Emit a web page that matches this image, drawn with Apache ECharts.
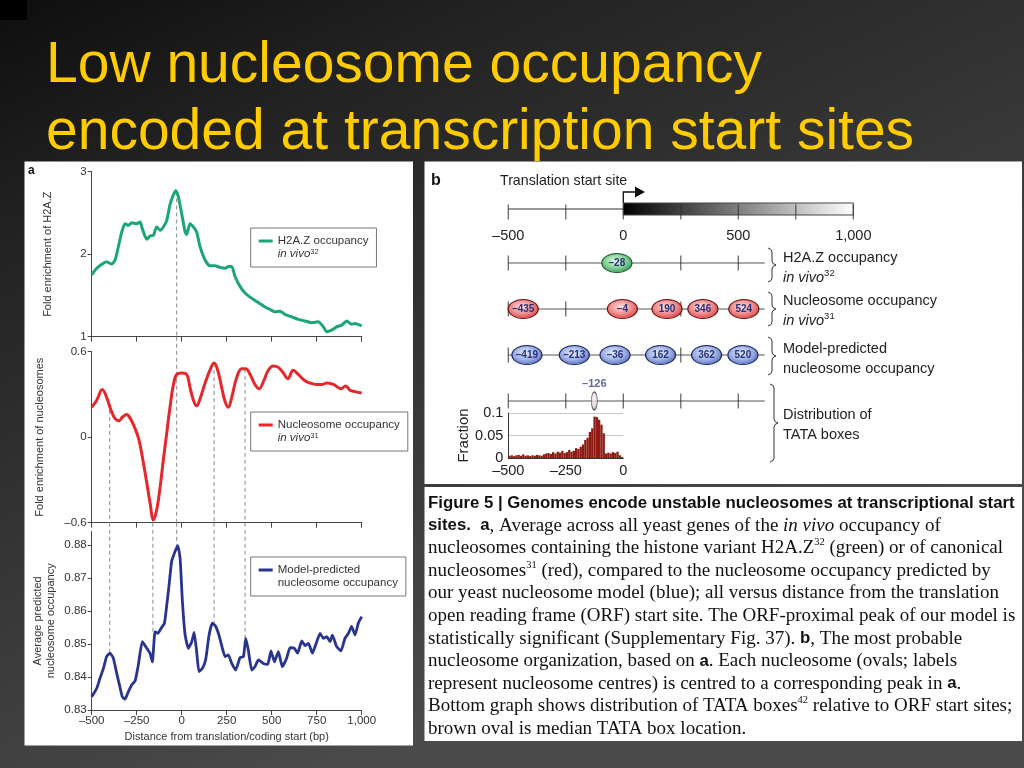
<!DOCTYPE html>
<html><head><meta charset="utf-8">
<script src="https://cdn.jsdelivr.net/npm/echarts@6/dist/echarts.min.js"></script>
<style>html,body{margin:0;padding:0;background:#222}#c{width:1024px;height:768px}</style>
</head><body><div id="c"></div><script>
// ---------- Panel a data ----------
const xTickStep = 250;
const h2azPos = [-500,-472,-435,-417,-389,-370,-352,-333,-315,-296,-278,-250,-231,-219,-194,-176,-157,-139,-120,-102,-83,-65,-46,-33,-19,0,19,28,46,65,83,102,130,157,185,213,241,259,278,296,324,352,380,407,435,463,491,519,546,574,611,648,685,722,759,787,806,833,861,889,917,944,963,1000];
const h2azFold = [1.75,1.83,1.89,1.91,1.88,1.93,2.09,2.27,2.37,2.35,2.38,2.37,2.39,2.31,2.18,2.22,2.23,2.33,2.29,2.33,2.41,2.60,2.72,2.77,2.70,2.49,2.27,2.24,2.37,2.33,2.27,2.09,1.93,1.86,1.86,1.84,1.83,1.85,1.85,1.73,1.61,1.53,1.48,1.44,1.40,1.36,1.33,1.30,1.31,1.27,1.24,1.21,1.19,1.17,1.18,1.12,1.06,1.08,1.12,1.14,1.19,1.15,1.16,1.13];
const nucPos = [-500,-472,-441,-417,-393,-370,-348,-330,-306,-281,-259,-237,-213,-194,-176,-157,-139,-120,-102,-83,-65,-46,-28,0,28,46,65,83,102,130,157,180,200,222,241,259,278,306,333,356,380,407,430,454,481,509,537,565,589,620,648,681,713,750,778,806,843,885,911,935,963,1000];
const nucFold = [0.21,0.26,0.335,0.28,0.19,0.13,0.116,0.14,0.16,0.12,0.06,-0.02,-0.18,-0.32,-0.46,-0.58,-0.51,-0.35,-0.16,0.03,0.21,0.37,0.44,0.45,0.44,0.35,0.26,0.22,0.27,0.38,0.47,0.52,0.47,0.35,0.25,0.21,0.28,0.42,0.48,0.48,0.44,0.37,0.34,0.39,0.47,0.50,0.49,0.45,0.41,0.47,0.44,0.40,0.38,0.37,0.37,0.38,0.37,0.34,0.36,0.33,0.32,0.31];
const modelPos = [-500,-472,-454,-435,-417,-398,-380,-361,-346,-330,-315,-296,-278,-259,-241,-219,-194,-176,-163,-148,-133,-115,-96,-83,-70,-56,-37,-22,-9,4,19,37,56,69,83,96,115,133,152,170,189,207,226,241,259,278,300,324,343,356,370,389,407,426,454,478,496,515,537,559,583,602,626,644,667,685,704,726,744,769,787,806,824,837,861,885,907,926,944,963,981,1000];
const modelOcc = [0.834,0.8366,0.8396,0.8426,0.8462,0.8472,0.8457,0.8411,0.8376,0.834,0.8333,0.8356,0.8376,0.8388,0.8436,0.8507,0.8487,0.8472,0.8446,0.8537,0.8532,0.8547,0.8563,0.8618,0.8679,0.875,0.878,0.8798,0.876,0.8628,0.8527,0.8487,0.8507,0.8535,0.8477,0.8416,0.8426,0.8452,0.8527,0.8563,0.8553,0.8527,0.8487,0.8462,0.8467,0.8441,0.8421,0.8459,0.8462,0.8517,0.8482,0.8421,0.8431,0.8452,0.8441,0.8438,0.8479,0.8446,0.8477,0.8431,0.8457,0.8489,0.8487,0.8472,0.8509,0.8495,0.8502,0.8472,0.8497,0.8532,0.8517,0.8522,0.8507,0.8527,0.8492,0.8479,0.8517,0.8532,0.8553,0.8527,0.8563,0.8583];
const modelTicks = [0.83,0.84,0.85,0.86,0.87,0.88];
// dashed guide lines linking peaks
const h2azGuide = {pos:-28, from:2.76, to:1};
const guidePos = [-400,-160,-28,180,352];
const guideRedFrom = [0.24,-0.58,0.705,0.52,0.48];
const guideBlueTo = [0.8472,0.8537,0.8795,0.8558,0.8517];
const guideBlueFrom = 0.8867;

// ---------- Panel b data ----------
const scaleTicks = [-500,-250,0,250,500,750,1000];
const scaleLabels = [-500,0,500,1000];
const rowNames = ['H2A.Z','Nucleosome','Model','TATA'];
const rowTicks = [-500,-250,0,250,500];
const rowEnd = 615;
const h2azCentres = [-28];
const nucCentres = [-435,-4,190,346,524];
const modelCentres = [-419,-213,-36,162,362,520];
const tataMedian = -126;
const tataBinStart = -500, tataBinWidth = 10;
const tataFrac = [0.005,0.006,0.004,0.006,0.007,0.005,0.008,0.005,0.006,0.004,
  0.006,0.005,0.007,0.006,0.005,0.008,0.010,0.011,0.009,0.013,
  0.010,0.014,0.012,0.016,0.011,0.013,0.018,0.014,0.016,0.022,
  0.020,0.025,0.030,0.040,0.045,0.058,0.066,0.092,0.091,0.085,
  0.074,0.055,0.010,0.012,0.010,0.013,0.011,0.014,0.006,0.002];
const fracTicks = [0,0.05,0.1];

// ---------- helpers ----------
const SANS = 'Liberation Sans';
const SERIF = 'Liberation Serif';
const dash = v => v < 0 ? '\u2013' + Math.abs(v).toLocaleString('en-US') : v.toLocaleString('en-US');
const zip = (a,b) => a.map((x,i)=>[x,b[i]]);
const guideStyle = {color:'#8a8a8a', width:1, type:[4,3]};
function guide(gi, x, y1, y2){
  return {type:'line', xAxisIndex:gi, yAxisIndex:gi, data:[[x,y1],[x,y2]], symbol:'none', clip:false, silent:true, z:1, lineStyle:guideStyle};
}
const tickLbl = {fontFamily:SANS, fontSize:11.5, color:'#333', margin:5};
function aX(gi, showLabel){
  return {gridIndex:gi, type:'value', min:-500, max:1000, interval:xTickStep,
    axisLine:{onZero:false, lineStyle:{color:'#444'}}, axisTick:{length:5, lineStyle:{color:'#444'}},
    splitLine:{show:false}, axisLabel:Object.assign({show:showLabel, formatter:dash}, tickLbl)};
}
const nameStyle = {fontFamily:SANS, fontSize:11, color:'#333', lineHeight:13};
const ovalGrad = (c0,c1,c2) => ({type:'radial', x:0.45, y:0.4, r:0.65, colorStops:[{offset:0,color:c0},{offset:0.55,color:c1},{offset:1,color:c2}]});
const ovalLabel = {show:true, position:'inside', formatter:p=>dash(p.value[0]), fontFamily:SANS, fontSize:10, fontWeight:'bold', color:'#28307a'};
function ovals(centres, row, c0,c1,c2,border){
  return {type:'scatter', xAxisIndex:4, yAxisIndex:4, data:centres.map(x=>[x,row]), symbol:'circle', symbolSize:[30,19], z:5,
    itemStyle:{color:ovalGrad(c0,c1,c2), borderColor:border, borderWidth:1, opacity:1}, label:ovalLabel};
}
const legendRich = {n:{fontFamily:SANS, fontSize:11.5, lineHeight:13.5, color:'#333'}, i:{fontFamily:SANS, fontStyle:'italic', fontSize:11.5, lineHeight:13.5, color:'#333'}, s:{fontFamily:SANS, fontSize:7.5, lineHeight:9, verticalAlign:'top', color:'#333'}};
const legendText = {'H2A.Z':'{n|H2A.Z occupancy}\n{i|in vivo}{s|32}', 'Nucleosome':'{n|Nucleosome occupancy}\n{i|in vivo}{s|31}', 'Model':'{n|Model-predicted}\n{n|nucleosome occupancy}'};
function mkLegend(name, left, top, w){
  return {data:[name], left:left, top:top, orient:'vertical', selectedMode:false, backgroundColor:'#fff', borderColor:'#777', borderWidth:1, padding:[6,8,6,8],
    itemWidth:14, itemHeight:27, symbolKeepAspect:false, itemStyle:{borderWidth:0},
    icon:'path://M0,0L14,0L14,0.01Z M0,5.5L14,5.5L14,8.5L0,8.5Z M0,27L14,27L14,26.99Z',
    formatter:n=>legendText[n], textStyle:{width:w, rich:legendRich}};
}

const series = [
  {name:'H2A.Z', type:'line', xAxisIndex:0, yAxisIndex:0, data:zip(h2azPos,h2azFold), symbol:'none', smooth:0.2, z:3, color:'#1aa57a', lineStyle:{width:3, color:'#1aa57a'}},
  {name:'Nucleosome', type:'line', xAxisIndex:1, yAxisIndex:1, data:zip(nucPos,nucFold), symbol:'none', smooth:0.4, z:3, color:'#e5282c', lineStyle:{width:3, color:'#e5282c'}},
  {name:'Model', type:'line', xAxisIndex:2, yAxisIndex:2, data:zip(modelPos,modelOcc), symbol:'none', smooth:0.15, z:3, color:'#28348e', lineStyle:{width:2.8, color:'#28348e'}},
  guide(0, h2azGuide.pos, h2azGuide.from, h2azGuide.to)
];
guidePos.forEach((x,i)=>{ series.push(guide(1, x, guideRedFrom[i], -0.6)); series.push(guide(2, x, guideBlueFrom, guideBlueTo[i])); });

// panel b: scale bar
series.push({type:'line', xAxisIndex:3, yAxisIndex:3, data:[[-500,0.5],[0,0.5]], symbol:'none', silent:true, lineStyle:{color:'#333', width:1},
  markArea:{silent:true, itemStyle:{color:{type:'linear', x:0, y:0, x2:1, y2:0, colorStops:[{offset:0,color:'#000'},{offset:1,color:'#fff'}]}, borderColor:'#444', borderWidth:1},
    data:[[{coord:[0,0]},{coord:[1000,1]}]]}});
series.push({type:'scatter', xAxisIndex:3, yAxisIndex:3, data:scaleTicks.map(x=>[x,0.5]), symbol:'rect', symbolSize:[1.2,15], symbolOffset:[0,3], silent:true, z:6, itemStyle:{color:'#333'}});
// panel b: rows
rowNames.forEach(r=>{
  series.push({type:'line', xAxisIndex:4, yAxisIndex:4, data:[[-500,r],[rowEnd,r]], symbol:'none', silent:true, z:2, lineStyle:{color:'#555', width:1}});
});
const tickPts = [];
rowNames.forEach(r=>rowTicks.forEach(x=>tickPts.push([x,r])));
series.push({type:'scatter', xAxisIndex:4, yAxisIndex:4, data:tickPts, symbol:'rect', symbolSize:[1.2,15], silent:true, z:3, itemStyle:{color:'#333'}});
series.push(ovals(h2azCentres, rowNames[0], '#e4f8e6','#7fd08f','#2e9656','#1f5a33'));
series.push(ovals(nucCentres, rowNames[1], '#ffe3e3','#f08a8a','#cf3b3b','#6a1515'));
series.push(ovals(modelCentres, rowNames[2], '#e8eefc','#9cb0e6','#4f66b6','#1c2560'));
series.push({type:'scatter', xAxisIndex:4, yAxisIndex:4, data:[[tataMedian, rowNames[3]]], symbol:'circle', symbolSize:[6,18], z:5,
  itemStyle:{color:ovalGrad('#fbf2f4','#e3cfd5','#a68a92'), borderColor:'#333', borderWidth:1},
  label:{show:true, position:'top', distance:2, formatter:p=>dash(p.value[0]), fontFamily:SANS, fontSize:11, fontWeight:'bold', color:'#34418a'}});
// histogram
series.push({type:'bar', xAxisIndex:6, yAxisIndex:5, data:tataFrac, barCategoryGap:'0%', itemStyle:{color:'#8e1c14'}, silent:true});

const grids = [
  {left:91.7, top:171.7, width:270, height:165},
  {left:91.7, top:351.7, width:270, height:171},
  {left:91.7, top:531.7, width:270, height:178.3},
  {left:508.3, top:203, width:345, height:12},
  {left:508.3, top:240, width:345, height:184},
  {left:508.3, top:413, width:115, height:45}
].map(g=>Object.assign({outerBoundsMode:'none', containLabel:false}, g));

const xAxes = [
  aX(0,false), aX(1,false),
  Object.assign(aX(2,true), {name:'Distance from translation/coding start (bp)', nameLocation:'middle', nameGap:20, nameTextStyle:nameStyle}),
  {gridIndex:3, type:'value', min:-500, max:1000, interval:xTickStep, axisLine:{show:false}, axisTick:{show:false}, splitLine:{show:false},
    axisLabel:{customValues:scaleLabels, formatter:dash, fontFamily:SANS, fontSize:14.5, color:'#222', margin:13}},
  {gridIndex:4, type:'value', min:-500, max:1000, show:false},
  {gridIndex:5, type:'value', min:-500, max:0, interval:xTickStep, position:'bottom', axisLine:{onZero:false, lineStyle:{color:'#333'}}, axisTick:{show:false}, splitLine:{show:false},
    axisLabel:{formatter:dash, fontFamily:SANS, fontSize:14.5, color:'#222', margin:5}},
  {gridIndex:5, type:'category', show:false, data:tataFrac.map((_,i)=>tataBinStart+i*tataBinWidth), boundaryGap:true}
];
const yTick = {length:4, lineStyle:{color:'#444'}};
const yLine = {show:true, onZero:false, lineStyle:{color:'#444'}};
const yAxes = [
  {gridIndex:0, type:'value', min:1, max:3, interval:1, axisLine:yLine, axisTick:Object.assign({show:true},yTick), splitLine:{show:false},
    axisLabel:tickLbl, name:'Fold enrichment of H2A.Z', nameLocation:'middle', nameGap:37, nameTextStyle:nameStyle},
  {gridIndex:1, type:'value', min:-0.6, max:0.6, interval:0.6, axisLine:yLine, axisTick:Object.assign({show:true},yTick), splitLine:{show:false},
    axisLabel:Object.assign({formatter:v=>Math.abs(v)<1e-9?'0':dash(+v.toFixed(1))}, tickLbl), name:'Fold enrichment of nucleosomes', nameLocation:'middle', nameGap:45, nameTextStyle:nameStyle},
  {gridIndex:2, type:'value', min:0.83, max:0.884, axisLine:yLine, axisTick:Object.assign({show:true, customValues:modelTicks},yTick), splitLine:{show:false},
    axisLabel:Object.assign({customValues:modelTicks, formatter:v=>v.toFixed(2)}, tickLbl), name:'Average predicted\nnucleosome occupancy', nameLocation:'middle', nameGap:34, nameTextStyle:nameStyle},
  {gridIndex:3, type:'value', min:0, max:1, show:false},
  {gridIndex:4, type:'category', data:rowNames, inverse:true, show:false},
  {gridIndex:5, type:'value', min:0, max:0.1, interval:0.05, axisLine:{show:true, onZero:false, lineStyle:{color:'#333'}}, axisTick:{show:false},
    splitLine:{show:true, lineStyle:{color:'#c8c8c8'}}, axisLabel:{customValues:fracTicks, formatter:v=>String(+v.toFixed(2)), fontFamily:SANS, fontSize:14.5, color:'#222', margin:5},
    name:'Fraction', nameLocation:'middle', nameRotate:90, nameGap:33, nameTextStyle:{fontFamily:SANS, fontSize:15, color:'#222'}}
];

// ---------- static decorations ----------
function brace(x, y1, y2){
  const ym = (y1+y2)/2;
  return {type:'polyline', z:20, shape:{points:[[x,y1],[x+3,y1+1.5],[x+4,y1+4],[x+4,ym-4],[x+5,ym-1.5],[x+8,ym],[x+5,ym+1.5],[x+4,ym+4],[x+4,y2-4],[x+3,y2-1.5],[x,y2]]},
    style:{stroke:'#333', lineWidth:1, fill:null}};
}
const bRich = {n:{fontFamily:SANS, fontSize:14.5, lineHeight:20, fill:'#222'}, i:{fontFamily:SANS, fontStyle:'italic', fontSize:14.5, lineHeight:20, fill:'#222'}, s:{fontFamily:SANS, fontSize:9.5, lineHeight:13, verticalAlign:'top', fill:'#222'}};
function bLabel(text, top){ return {type:'text', z:20, style:{text:text, x:783, y:top, verticalAlign:'top', rich:bRich, fill:'#222'}}; }

const capLines = [
  '{b|Figure 5 | Genomes encode unstable nucleosomes at transcriptional start}',
  '{b|sites.  a}{t|, Average across all yeast genes of the }{i|in vivo}{t| occupancy of}',
  '{t|nucleosomes containing the histone variant H2A.Z}{sup|32}{t| (green) or of canonical}',
  '{t|nucleosomes}{sup|31}{t| (red), compared to the nucleosome occupancy predicted by}',
  '{t|our yeast nucleosome model (blue); all versus distance from the translation}',
  '{t|open reading frame (ORF) start site. The ORF-proximal peak of our model is}',
  '{t|statistically significant (Supplementary Fig. 37). }{b|b}{t|, The most probable}',
  '{t|nucleosome organization, based on }{b|a}{t|. Each nucleosome (ovals; labels}',
  '{t|represent nucleosome centres) is centred to a corresponding peak in }{b|a}{t|.}',
  '{t|Bottom graph shows distribution of TATA boxes}{sup|42}{t| relative to ORF start sites;}',
  '{t|brown oval is median TATA box location.}'
];
const LH = 22.6;
const capRich = {
  t:{fontFamily:SERIF, fontSize:19, lineHeight:LH, fill:'#111'},
  i:{fontFamily:SERIF, fontStyle:'italic', fontSize:19, lineHeight:LH, fill:'#111'},
  b:{fontFamily:SANS, fontWeight:'bold', fontSize:16.8, lineHeight:LH, fill:'#111'},
  sup:{fontFamily:SERIF, fontSize:10.5, lineHeight:16, verticalAlign:'top', fill:'#111'}
};

const graphic = [
  {type:'rect', z:-100, shape:{x:0,y:0,width:27,height:20}, style:{fill:'#000'}},
  {type:'rect', z:-100, shape:{x:24.5,y:161.5,width:388.5,height:584}, style:{fill:'#fff'}},
  {type:'rect', z:-100, shape:{x:424.5,y:161.5,width:597.5,height:322.5}, style:{fill:'#fff'}},
  {type:'rect', z:-100, shape:{x:424.5,y:487,width:597.5,height:254}, style:{fill:'#fff'}},
  {type:'text', z:20, style:{text:'Low nucleosome occupancy', x:46, y:66, verticalAlign:'middle', fontFamily:SANS, fontSize:57, fill:'#FFCC00'}},
  {type:'text', z:20, style:{text:'encoded at transcription start sites', x:46, y:133, verticalAlign:'middle', fontFamily:SANS, fontSize:57, fill:'#FFCC00'}},
  {type:'text', z:20, style:{text:'a', x:28, y:171, verticalAlign:'middle', fontFamily:SANS, fontWeight:'bold', fontSize:12, fill:'#111'}},
  {type:'text', z:20, style:{text:'b', x:431, y:181, verticalAlign:'middle', fontFamily:SANS, fontWeight:'bold', fontSize:16, fill:'#111'}},
  {type:'text', z:20, style:{text:'Translation start site', x:500, y:181, verticalAlign:'middle', fontFamily:SANS, fontSize:14.2, fill:'#222'}},
  {type:'polyline', z:20, shape:{points:[[623.3,203],[623.3,192],[636,192]]}, style:{stroke:'#111', lineWidth:1.3, fill:null}},
  {type:'polygon', z:20, shape:{points:[[635,186.5],[645,192],[635,197.5]]}, style:{fill:'#111'}},
  brace(768, 248, 282), brace(768, 292, 326), brace(768, 337, 375), brace(770, 384, 462),
  bLabel('{n|H2A.Z occupancy}\n{i|in vivo}{s|32}', 248),
  bLabel('{n|Nucleosome occupancy}\n{i|in vivo}{s|31}', 291),
  bLabel('{n|Model-predicted}\n{n|nucleosome occupancy}', 339),
  bLabel('{n|Distribution of}\n{n|TATA boxes}', 405),
  {type:'text', z:20, style:{text:capLines.join('\n'), x:428, y:491.7, verticalAlign:'top', rich:capRich, fill:'#111'}}
];

const chart = echarts.init(document.getElementById('c'));
chart.setOption({
  animation:false,
  backgroundColor:{type:'linear', x:0, y:0, x2:0.35, y2:1, colorStops:[{offset:0,color:'#0e0e0e'},{offset:0.25,color:'#222'},{offset:1,color:'#4b4b4b'}]},
  grid:grids, xAxis:xAxes, yAxis:yAxes, series:series,
  legend:[mkLegend('H2A.Z',250.7,228,114), mkLegend('Nucleosome',250.7,412,121), mkLegend('Model',250.7,557,119)],
  graphic:graphic
});
</script></body></html>
